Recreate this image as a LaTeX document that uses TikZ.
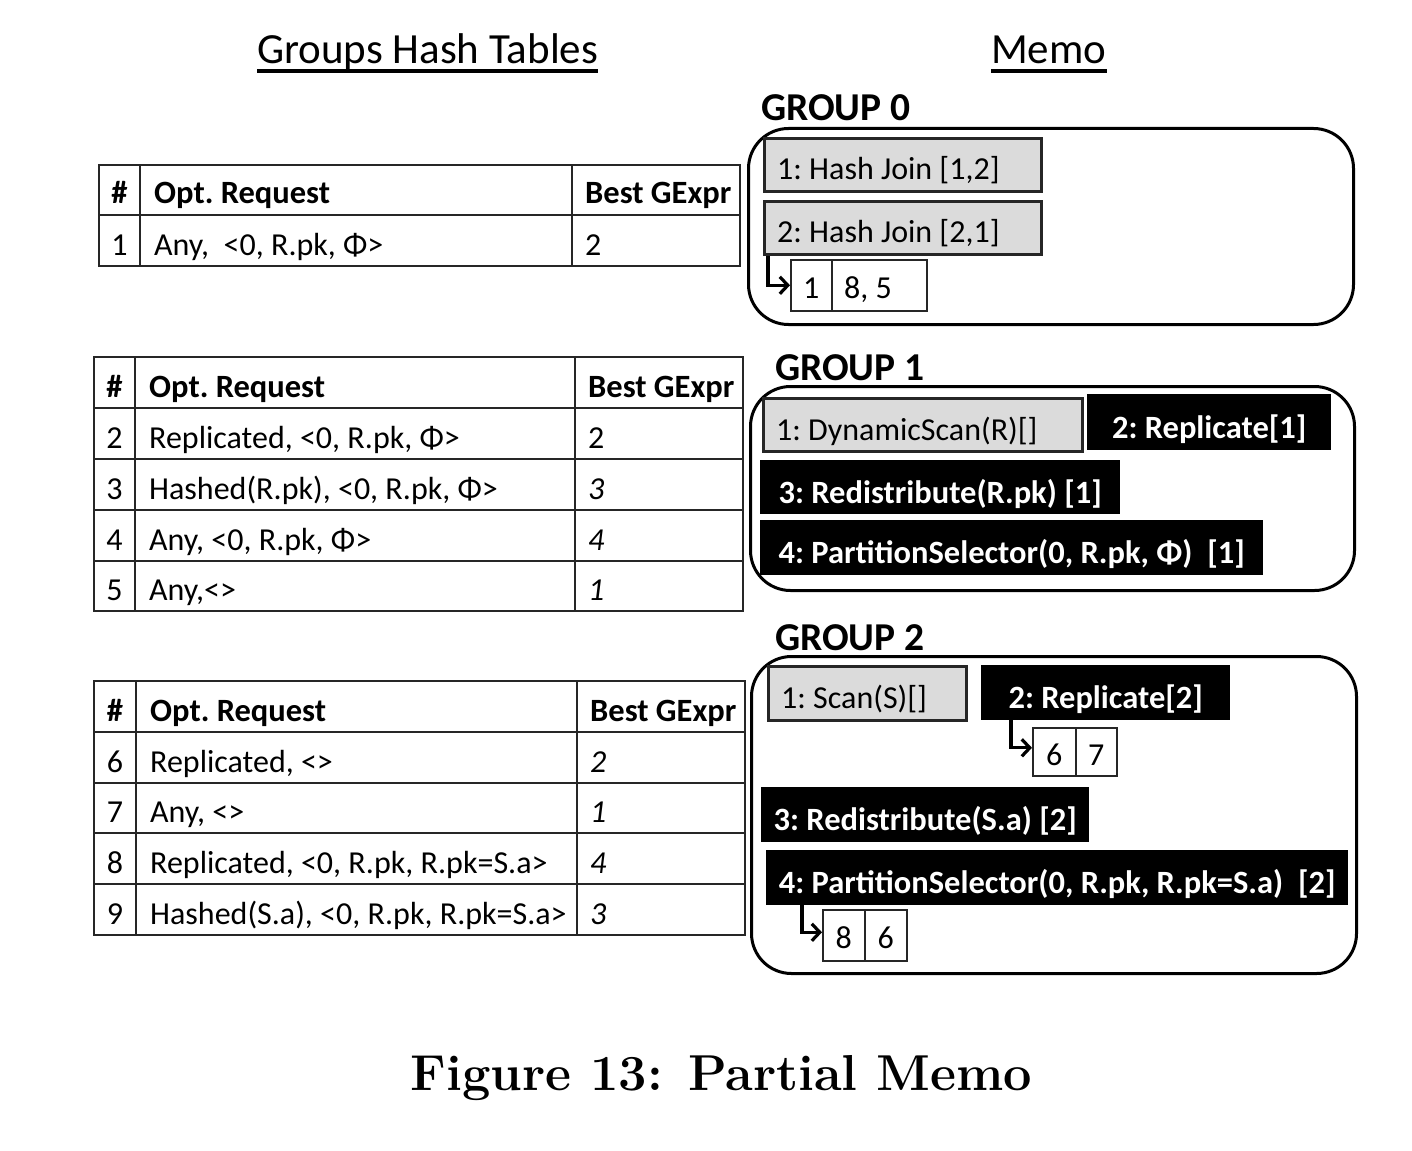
\documentclass[tikz,border=0pt]{standalone}
\usepackage{fontspec}
\setsansfont{Carlito}
\usetikzlibrary{arrows.meta}
\begin{document}
\begin{tikzpicture}[x=1pt,y=-1pt,
  tline/.style={draw=black!85, line width=1.9pt},
  txt/.style={font=\sffamily\frenchspacing\fontsize{32}{38}\selectfont, inner sep=0pt},
  htxt/.style={font=\sffamily\bfseries\frenchspacing\fontsize{32.5}{38}\selectfont, inner sep=0pt},
  itxt/.style={font=\sffamily\itshape\frenchspacing\fontsize{32}{38}\selectfont, inner sep=0pt},
  wtxt/.style={font=\sffamily\bfseries\frenchspacing\fontsize{32.5}{38}\selectfont, inner sep=0pt, text=white, anchor=base},
  title/.style={font=\sffamily\fontsize{43}{50}\selectfont, inner sep=0pt, anchor=base west},
  ulineA/.style={line width=3.5pt},
  glabel/.style={font=\sffamily\bfseries\fontsize{39.5}{46}\selectfont, inner sep=0pt, anchor=base west},
  grp/.style={draw=black, line width=3pt, rounded corners=40pt, anchor=north west, inner sep=0pt},
  graybox/.style={draw=black!85, line width=3.2pt, fill=black!14, anchor=north west, inner sep=0pt},
  blackbox/.style={fill=black, anchor=north west, inner sep=0pt},
  stcell/.style={draw=black!85, line width=1.6pt, anchor=north west, inner sep=0pt},
  arr/.style={line width=3.2pt, -{Straight Barb[length=8pt,width=17pt]}},
]
\useasboundingbox (0,0) rectangle (1412,1150);

% ---------- titles ----------
\node[title] (ttab) at (257,64) {Groups Hash Tables};
\draw[ulineA] ([yshift=-7pt]ttab.base west) -- ([yshift=-7pt]ttab.base east);
\node[title] (tmemo) at (991,64) {Memo};
\draw[ulineA] ([yshift=-7pt]tmemo.base west) -- ([yshift=-7pt]tmemo.base east);

% ---------- table 1 ----------
\draw[tline] (99,165) rectangle (740,266);
\draw[tline] (99,215) -- (740,215);
\draw[tline] (140,165) -- (140,266);
\draw[tline] (572,165) -- (572,266);
\node[htxt, anchor=base] (t1hn) at (119.5,204) {\#};
\node[htxt, anchor=base west] (t1hr) at (154,204) {Opt. Request};
\node[htxt, anchor=base west] (t1hb) at (585,204) {Best GExpr};
\node[txt, anchor=base] (t1n1) at (119.5,255) {1};
\node[txt, anchor=base west] (t1r1) at (154,255) {Any,\ \ <0, R.pk, Φ>};
\node[txt, anchor=base west] (t1b1) at (585,255) {2};

% ---------- table 2 ----------
\draw[tline] (94,357) rectangle (743,611);
\foreach \yy in {408,459,510,561} \draw[tline] (94,\yy) -- (743,\yy);
\draw[tline] (135,357) -- (135,611);
\draw[tline] (575,357) -- (575,611);
\node[htxt, anchor=base] (t2hn) at (114.5,397) {\#};
\node[htxt, anchor=base west] (t2hr) at (149,397) {Opt. Request};
\node[htxt, anchor=base west] (t2hb) at (588,397) {Best GExpr};
\node[txt, anchor=base] (t2n2) at (114.5,448) {2};
\node[txt, anchor=base west] (t2r2) at (149,448) {Replicated, <0, R.pk, Φ>};
\node[txt, anchor=base west] (t2b2) at (588,448) {2};
\node[txt, anchor=base] (t2n3) at (114.5,499) {3};
\node[txt, anchor=base west] (t2r3) at (149,499) {Hashed(R.pk), <0, R.pk, Φ>};
\node[itxt, anchor=base west] (t2b3) at (588,499) {3};
\node[txt, anchor=base] (t2n4) at (114.5,550) {4};
\node[txt, anchor=base west] (t2r4) at (149,550) {Any, <0, R.pk, Φ>};
\node[itxt, anchor=base west] (t2b4) at (588,550) {4};
\node[txt, anchor=base] (t2n5) at (114.5,600.5) {5};
\node[txt, anchor=base west] (t2r5) at (149,600.5) {Any,<>};
\node[itxt, anchor=base west] (t2b5) at (588,600.5) {1};

% ---------- table 3 ----------
\draw[tline] (94,681) rectangle (745,935);
\foreach \yy in {732,783,833,884} \draw[tline] (94,\yy) -- (745,\yy);
\draw[tline] (136,681) -- (136,935);
\draw[tline] (577,681) -- (577,935);
\node[htxt, anchor=base] (t3hn) at (115,721) {\#};
\node[htxt, anchor=base west] (t3hr) at (150,721) {Opt. Request};
\node[htxt, anchor=base west] (t3hb) at (590,721) {Best GExpr};
\node[txt, anchor=base] (t3n6) at (115,772) {6};
\node[txt, anchor=base west] (t3r6) at (150,772) {Replicated, <>};
\node[itxt, anchor=base west] (t3b6) at (590,772) {2};
\node[txt, anchor=base] (t3n7) at (115,822.5) {7};
\node[txt, anchor=base west] (t3r7) at (150,822.5) {Any, <>};
\node[itxt, anchor=base west] (t3b7) at (590,822.5) {1};
\node[txt, anchor=base] (t3n8) at (115,873) {8};
\node[txt, anchor=base west] (t3r8) at (150,873) {Replicated, <0, R.pk, R.pk=S.a>};
\node[itxt, anchor=base west] (t3b8) at (590,873) {4};
\node[txt, anchor=base] (t3n9) at (115,924) {9};
\node[txt, anchor=base west] (t3r9) at (150,924) {Hashed(S.a), <0, R.pk, R.pk=S.a>};
\node[itxt, anchor=base west] (t3b9) at (590,924) {3};

% ---------- GROUP 0 ----------
\node[glabel] (lg0) at (761,121) {GROUP 0};
\node[grp, minimum width=605pt, minimum height=196pt] (g0) at (747,127) {};
\node[graybox, minimum width=277pt, minimum height=53pt] (hj1) at (763,137) {};
\node[txt, anchor=base west] (hj1t) at ([xshift=14pt,yshift=-43pt]hj1.north west) {1: Hash Join [1,2]};
\node[graybox, minimum width=277pt, minimum height=53pt] (hj2) at (763,200) {};
\node[txt, anchor=base west] (hj2t) at ([xshift=14pt,yshift=-43pt]hj2.north west) {2: Hash Join [2,1]};
\node[stcell, minimum width=41pt, minimum height=51pt] (st0a) at (790,259) {};
\node[txt, anchor=base] (st0at) at ([yshift=-39.5pt]st0a.north) {1};
\node[stcell, minimum width=95pt, minimum height=51pt] (st0b) at (831,259) {};
\node[txt, anchor=base west] (st0bt) at ([xshift=13pt,yshift=-39.5pt]st0b.north west) {8, 5};
\draw[arr] ([xshift=5pt]hj2.south west) |- (st0a.west);

% ---------- GROUP 1 ----------
\node[glabel] (lg1) at (775,380) {GROUP 1};
\node[grp, minimum width=604pt, minimum height=204pt] (g1) at (749,385) {};
\node[graybox, minimum width=319pt, minimum height=53pt] (ds) at (762,397) {};
\node[txt, anchor=base west] (dst) at ([xshift=14pt,yshift=-43pt]ds.north west) {1: DynamicScan(R)[]};
\node[blackbox, minimum width=244pt, minimum height=56pt] (rep1) at (1087,394) {};
\node[wtxt] (rep1t) at ([yshift=-44pt]rep1.north) {2: Replicate[1]};
\node[blackbox, minimum width=360pt, minimum height=54pt] (red1) at (760,460) {};
\node[wtxt] (red1t) at ([yshift=-43pt]red1.north) {3: Redistribute(R.pk) [1]};
\node[blackbox, minimum width=503pt, minimum height=55pt] (ps1) at (760,520) {};
\node[wtxt] (ps1t) at ([yshift=-43.5pt]ps1.north) {4: PartitionSelector(0, R.pk, Φ)\ \ [1]};

% ---------- GROUP 2 ----------
\node[glabel] (lg2) at (775,650) {GROUP 2};
\node[grp, minimum width=605pt, minimum height=317pt] (g2) at (750,655) {};
\node[graybox, minimum width=198pt, minimum height=54pt] (scan) at (767,665) {};
\node[txt, anchor=base west] (scant) at ([xshift=14pt,yshift=-43.5pt]scan.north west) {1: Scan(S)[]};
\node[blackbox, minimum width=249pt, minimum height=55pt] (rep2) at (981,665) {};
\node[wtxt] (rep2t) at ([yshift=-43.5pt]rep2.north) {2: Replicate[2]};
\node[stcell, minimum width=43pt, minimum height=48pt] (st2a) at (1032,727) {};
\node[txt, anchor=base] (st2at) at ([yshift=-38pt]st2a.north) {6};
\node[stcell, minimum width=41pt, minimum height=48pt] (st2b) at (1075,727) {};
\node[txt, anchor=base] (st2bt) at ([yshift=-38pt]st2b.north) {7};
\draw[arr] ([xshift=30pt]rep2.south west) |- ([yshift=4pt]st2a.west);
\node[blackbox, minimum width=328pt, minimum height=55pt] (red2) at (761,787) {};
\node[wtxt] (red2t) at ([yshift=-43.5pt]red2.north) {3: Redistribute(S.a) [2]};
\node[blackbox, minimum width=582pt, minimum height=55pt] (ps2) at (766,850) {};
\node[wtxt] (ps2t) at ([yshift=-43.5pt]ps2.north) {4: PartitionSelector(0, R.pk, R.pk=S.a)\ \ [2]};
\node[stcell, minimum width=42pt, minimum height=51pt] (st3a) at (822,909) {};
\node[txt, anchor=base] (st3at) at ([yshift=-39.5pt]st3a.north) {8};
\node[stcell, minimum width=42pt, minimum height=51pt] (st3b) at (864,909) {};
\node[txt, anchor=base] (st3bt) at ([yshift=-39.5pt]st3b.north) {6};
\draw[arr] ([xshift=36pt]ps2.south west) |- ([yshift=3pt]st3a.west);

% ---------- caption ----------
\node[font=\rmfamily\bfseries\fontsize{50.5}{60}\selectfont, inner sep=0pt, anchor=base] (cap) at (721.5,1090) {Figure 13: Partial Memo};
\end{tikzpicture}
\end{document}
